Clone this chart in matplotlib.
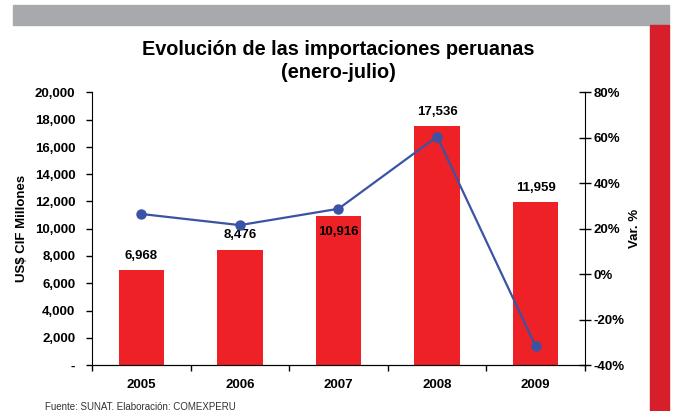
import numpy as np
import matplotlib
matplotlib.use('Agg')
import matplotlib.pyplot as plt
from matplotlib.patches import Rectangle
from matplotlib.ticker import FuncFormatter, FixedLocator

plt.rcParams['font.family'] = ['Liberation Sans', 'DejaVu Sans']

# datos enero-julio
years = ['2005', '2006', '2007', '2008', '2009']
imports = [6968, 8476, 10916, 17536, 11959]
var_pct = [26.5, 21.6, 28.8, 60.6, -31.8]
bar_labels = ['6,968', '8,476', '10,916', '17,536', '11,959']

W, H = 673, 411
fig = plt.figure(figsize=(W / 100, H / 100), dpi=100)

# banda gris superior y barra roja lateral
fig.patches.append(Rectangle((13 / W, 1 - 25 / H), (669 - 13) / W, 20 / H,
                             transform=fig.transFigure, color='#A7A9AC', zorder=0))
fig.patches.append(Rectangle((650 / W, 0), 19 / W, 1 - 25 / H,
                             transform=fig.transFigure, color='#D71F2B', zorder=0))

ax = fig.add_axes([92 / W, 1 - 365 / H, (585 - 92) / W, (365 - 92.5) / H])
x = np.arange(len(years))
ax.bar(x, imports, width=0.46, color='#EE2127', zorder=2)
ax.set_xlim(-0.5, len(years) - 0.5)
ax.set_ylim(0, 20000)
ax.set_yticks(np.arange(0, 20001, 2000))
ax.yaxis.set_major_formatter(FuncFormatter(lambda v, p: '-' if v == 0 else f'{int(v):,}'))
ax.set_xticks(x)
ax.set_xticklabels(years)
ax.xaxis.set_minor_locator(FixedLocator(np.arange(-0.5, len(years), 1.0)))
ax.tick_params(axis='x', which='major', length=0, pad=10, labelsize=9.5)
ax.tick_params(axis='x', which='minor', length=4, direction='out', width=1)
ax.tick_params(axis='y', length=4, direction='out', width=1, labelsize=9.5, pad=8)
for lab in ax.get_xticklabels() + ax.get_yticklabels():
    lab.set_fontweight('bold')
ax.spines['top'].set_visible(False)
ax.spines['right'].set_visible(False)
ax.set_ylabel('US$ CIF Millones', fontsize=9.5, fontweight='bold', labelpad=5)

for i, (v, s) in enumerate(zip(imports, bar_labels)):
    if i == 2:
        ax.text(i, v - 750, s, ha='center', va='top', fontsize=9.5, fontweight='bold', zorder=5)
    else:
        ax.text(i, v + 600, s, ha='center', va='bottom', fontsize=9.5, fontweight='bold', zorder=5)

ax2 = ax.twinx()
ax2.plot(x, var_pct, color='#3A53A4', linewidth=1.6, marker='o', markersize=6.5, zorder=4)
ax2.set_ylim(-40, 80)
ax2.set_yticks(np.arange(-40, 81, 20))
ax2.yaxis.set_major_formatter(FuncFormatter(lambda v, p: f'{int(v)}%'))
ax2.tick_params(axis='y', length=8, direction='inout', width=1, labelsize=9.5, pad=2)
for lab in ax2.get_yticklabels():
    lab.set_fontweight('bold')
ax2.spines['top'].set_visible(False)
ax2.spines['left'].set_visible(False)
ax2.set_ylabel('Var. %', fontsize=9.5, fontweight='bold', labelpad=3)

fig.text(338 / W, 1 - 40 / H, 'Evolución de las importaciones peruanas\n(enero-julio)',
         ha='center', va='top', fontsize=14.3, fontweight='bold', linespacing=1.25)
fig.text(45 / W, 1 - 402 / H, 'Fuente: SUNAT. Elaboración: COMEXPERU',
         ha='left', va='top', fontsize=7, color='#333333')

fig.savefig('out.png', dpi=100)
